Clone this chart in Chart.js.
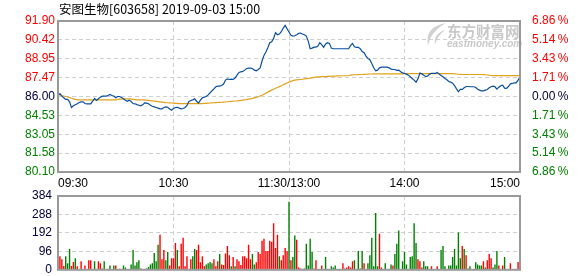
<!DOCTYPE html>
<html>
<head>
<meta charset="utf-8">
<script src="https://cdn.jsdelivr.net/npm/chart.js@4/dist/chart.umd.min.js"></script>
<style>
  html, body { margin: 0; padding: 0; background: #fff; overflow: hidden; }
  #wrap { position: relative; width: 578px; height: 276px; overflow: hidden; }
  canvas { position: absolute; left: 0; top: 0; }
</style>
</head>
<body>
<div id="wrap">
  <canvas id="priceChart" width="578" height="276"></canvas>
  <canvas id="volChart" width="578" height="283"></canvas>
</div>
<script>
const titleText = '安图生物[603658] 2019-09-03 15:00';
const prevClose = 86.00;
const timeLabels = ['09:30', '10:30', '11:30/13:00', '14:00', '15:00'];
const timeTickPos = [0, 60, 120, 180, 240];
const priceTicks = [91.90, 90.42, 88.95, 87.47, 86.00, 84.53, 83.05, 81.58, 80.10];
const pctTicks = [6.86, 5.14, 3.43, 1.71, 0, -1.71, -3.43, -5.14, -6.86];
const volTicks = [384, 288, 192, 96, 0];

// one value per minute, 09:30-11:30 then 13:00-15:00
const price = [
  86.08, 86.23, 86.03, 85.90, 85.77, 85.77, 85.58, 85.14, 85.27, 85.35,
  85.43, 85.53, 85.58, 85.58, 85.45, 85.43, 85.43, 85.43, 85.63, 85.84,
  85.69, 85.82, 85.95, 86.03, 86.03, 86.03, 86.08, 86.16, 86.08, 86.03,
  85.90, 86.00, 86.00, 85.92, 85.82, 85.71, 85.63, 85.71, 85.61, 85.45,
  85.43, 85.37, 85.32, 85.27, 85.35, 85.50, 85.48, 85.43, 85.32, 85.24,
  85.19, 85.14, 85.09, 85.03, 85.03, 85.14, 85.19, 85.16, 85.03, 84.93,
  85.06, 85.14, 85.16, 85.09, 85.03, 85.06, 85.14, 85.30, 85.61, 85.69,
  85.74, 85.82, 85.63, 85.48, 85.71, 85.90, 85.95, 86.00, 86.13, 86.29,
  86.45, 86.60, 86.76, 86.81, 86.81, 86.86, 86.97, 87.28, 87.38, 87.33,
  87.36, 87.33, 87.44, 87.67, 87.88, 87.93, 87.96, 88.06, 88.19, 88.22,
  88.22, 88.19, 88.06, 88.01, 88.11, 88.24, 88.77, 89.21, 89.47, 89.81,
  90.20, 90.28, 90.54, 90.99, 90.83, 90.88, 91.06, 91.35, 91.56, 91.30,
  91.04, 90.78, 90.72, 90.75, 90.83, 90.93, 90.96, 90.88, 90.83, 90.72,
  90.33, 89.73, 89.78, 89.86, 89.86, 89.94, 90.20, 90.05, 89.84, 90.10,
  90.20, 90.15, 89.78, 89.73, 89.73, 89.73, 89.73, 89.73, 89.73, 89.73,
  89.73, 89.73, 89.99, 90.15, 89.89, 89.84, 89.84, 89.73, 89.52, 89.42,
  89.16, 88.98, 88.87, 88.58, 88.24, 88.01, 88.06, 88.24, 88.30, 88.30,
  88.30, 88.30, 88.24, 88.14, 88.11, 88.11, 88.04, 88.06, 87.93, 87.85,
  87.80, 87.75, 87.67, 87.54, 87.41, 87.28, 87.12, 87.38, 87.83, 87.77,
  87.67, 87.57, 87.59, 87.75, 87.80, 87.80, 87.80, 87.88, 87.75, 87.64,
  87.54, 87.41, 87.31, 87.17, 87.12, 87.04, 86.86, 86.60, 86.37, 86.55,
  86.55, 86.68, 86.78, 86.78, 86.76, 86.76, 86.76, 86.70, 86.57, 86.50,
  86.44, 86.44, 86.50, 86.55, 86.68, 86.76, 86.81, 86.76, 86.57, 86.73,
  86.84, 86.89, 86.65, 86.63, 86.78, 86.99, 87.02, 87.07, 87.07, 87.28,
  87.54
];

const avgPrice = [
  86.18, 86.13, 86.08, 86.04, 86.00, 85.96, 85.92, 85.86, 85.82, 85.78,
  85.76, 85.74, 85.74, 85.74, 85.74, 85.74, 85.74, 85.74, 85.74, 85.74,
  85.74, 85.74, 85.74, 85.74, 85.74, 85.74, 85.74, 85.74, 85.74, 85.74,
  85.74, 85.77, 85.79, 85.80, 85.81, 85.81, 85.81, 85.81, 85.80, 85.78,
  85.76, 85.74, 85.74, 85.74, 85.74, 85.74, 85.72, 85.70, 85.68, 85.66,
  85.64, 85.62, 85.60, 85.58, 85.56, 85.54, 85.52, 85.51, 85.50, 85.49,
  85.48, 85.47, 85.46, 85.44, 85.44, 85.44, 85.44, 85.44, 85.44, 85.44,
  85.44, 85.44, 85.44, 85.44, 85.45, 85.45, 85.46, 85.47, 85.48, 85.49,
  85.50, 85.51, 85.52, 85.53, 85.54, 85.55, 85.56, 85.57, 85.59, 85.61,
  85.62, 85.63, 85.65, 85.66, 85.68, 85.70, 85.72, 85.74, 85.76, 85.79,
  85.82, 85.85, 85.89, 85.93, 85.98, 86.04, 86.10, 86.18, 86.26, 86.34,
  86.42, 86.50, 86.57, 86.64, 86.70, 86.77, 86.84, 86.92, 86.99, 87.06,
  87.12, 87.18, 87.24, 87.28, 87.30, 87.32, 87.33, 87.35, 87.37, 87.39,
  87.41, 87.43, 87.46, 87.49, 87.51, 87.53, 87.54, 87.55, 87.55, 87.56,
  87.57, 87.58, 87.59, 87.60, 87.60, 87.61, 87.61, 87.62, 87.62, 87.62,
  87.62, 87.64, 87.67, 87.69, 87.70, 87.70, 87.71, 87.72, 87.72, 87.73,
  87.74, 87.75, 87.76, 87.76, 87.77, 87.77, 87.77, 87.77, 87.77, 87.77,
  87.77, 87.77, 87.77, 87.77, 87.77, 87.77, 87.77, 87.77, 87.77, 87.77,
  87.78, 87.78, 87.79, 87.79, 87.79, 87.79, 87.79, 87.79, 87.79, 87.79,
  87.79, 87.79, 87.79, 87.79, 87.79, 87.79, 87.79, 87.79, 87.79, 87.79,
  87.79, 87.79, 87.79, 87.79, 87.79, 87.78, 87.77, 87.76, 87.74, 87.73,
  87.72, 87.72, 87.72, 87.72, 87.72, 87.72, 87.72, 87.72, 87.72, 87.72,
  87.72, 87.71, 87.70, 87.68, 87.66, 87.64, 87.63, 87.63, 87.63, 87.63,
  87.63, 87.63, 87.63, 87.63, 87.63, 87.63, 87.63, 87.63, 87.63, 87.63,
  87.63
];

const volume = [
  98, 71, 55, 20, 71, 34, 108, 20, 41, 60,
  18, 3, 44, 3, 23, 3, 50, 50, 3, 44,
  3, 44, 34, 7, 44, 3, 3, 23, 3, 23,
  23, 3, 5, 3, 23, 12, 3, 3, 28, 103,
  23, 39, 50, 7, 3, 3, 7, 14, 28, 34,
  87, 44, 130, 183, 55, 103, 50, 92, 23, 60,
  60, 140, 103, 18, 135, 167, 18, 71, 3, 55,
  71, 108, 103, 130, 39, 71, 18, 28, 34, 40,
  34, 55, 18, 44, 82, 28, 25, 85, 124, 76,
  18, 66, 18, 55, 44, 25, 71, 71, 60, 130,
  55, 82, 28, 39, 92, 82, 151, 162, 98, 98,
  151, 146, 242, 114, 183, 71, 50, 76, 114, 98,
  354, 50, 66, 178, 156, 12, 7, 2, 7, 135,
  23, 162, 92, 7, 50, 2, 2, 23, 2, 66,
  2, 2, 18, 12, 23, 2, 2, 2, 34, 7,
  12, 18, 12, 44, 50, 2, 98, 7, 98, 34,
  3, 34, 76, 167, 18, 295, 18, 188, 12, 3,
  34, 3, 3, 28, 23, 82, 135, 204, 3, 44,
  92, 28, 3, 66, 71, 242, 140, 55, 44, 12,
  44, 18, 18, 3, 18, 3, 3, 18, 3, 103,
  124, 18, 3, 23, 23, 66, 108, 23, 194, 60,
  124, 108, 76, 7, 18, 3, 3, 39, 28, 23,
  23, 44, 12, 50, 82, 60, 12, 28, 98, 23,
  3, 23, 66, 3, 3, 34, 3, 3, 3, 40,
  60
];

// 1 = price up that minute (red), 0 = down (green)
const volUp = [
  0, 1, 1, 1, 0, 0, 0, 1, 1, 0,
  1, 1, 1, 0, 1, 0, 1, 1, 0, 0,
  1, 1, 1, 1, 0, 0, 1, 0, 1, 0,
  1, 1, 1, 0, 0, 0, 1, 0, 0, 0,
  0, 0, 0, 1, 1, 1, 0, 0, 0, 0,
  0, 0, 0, 1, 1, 1, 0, 0, 1, 1,
  1, 1, 0, 1, 1, 1, 1, 1, 1, 1,
  0, 0, 1, 1, 1, 1, 1, 0, 0, 0,
  0, 1, 1, 1, 0, 1, 1, 1, 1, 1,
  0, 1, 0, 1, 1, 1, 1, 1, 1, 1,
  1, 0, 0, 1, 1, 1, 1, 1, 1, 1,
  1, 1, 1, 1, 1, 0, 1, 1, 1, 1,
  0, 1, 0, 0, 1, 1, 1, 0, 0, 0,
  0, 0, 0, 1, 1, 0, 1, 1, 1, 0,
  1, 1, 0, 0, 0, 0, 0, 0, 1, 1,
  1, 1, 1, 1, 0, 1, 0, 1, 0, 1,
  0, 0, 0, 0, 0, 0, 0, 1, 1, 0,
  0, 1, 0, 0, 1, 0, 0, 0, 1, 0,
  0, 0, 0, 0, 0, 0, 0, 1, 1, 1,
  0, 0, 0, 1, 1, 1, 1, 1, 1, 0,
  0, 0, 0, 0, 0, 0, 0, 0, 0, 0,
  1, 0, 1, 0, 0, 1, 1, 0, 0, 0,
  0, 1, 0, 1, 1, 1, 0, 0, 0, 1,
  0, 1, 0, 1, 0, 1, 0, 0, 1, 1,
  1
];

const RED = '#ff0000';
const GREEN = '#008000';
const DARK = '#00003a';
const tickFont = { family: 'Liberation Sans', size: 12 };
const gridColor = '#cfcfcf';

function sideColor(diff) {
  if (diff > 0.001) return RED;
  if (diff < -0.001) return GREEN;
  return DARK;
}

const frame = {
  id: 'frame',
  afterDraw(chart) {
    const { ctx, chartArea: a } = chart;
    ctx.save();
    ctx.strokeStyle = '#999';
    ctx.lineWidth = 2;
    ctx.strokeRect(a.left, a.top, a.right - a.left, a.bottom - a.top);
    ctx.restore();
  }
};

const decor = {
  id: 'decor',
  beforeDatasetsDraw(chart) {
    const ctx = chart.ctx;
    ctx.save();
    ctx.fillStyle = '#d0d0d0';
    ctx.beginPath();
    ctx.moveTo(446, 23);
    ctx.quadraticCurveTo(424, 27, 428, 46);
    ctx.quadraticCurveTo(430, 32, 446, 23);
    ctx.fill();
    ctx.beginPath();
    ctx.moveTo(445, 30);
    ctx.quadraticCurveTo(433, 34, 435, 45);
    ctx.quadraticCurveTo(437, 36, 445, 30);
    ctx.fill();
    ctx.fillStyle = '#c8c8c8';
    ctx.font = 'bold 14.5px "Noto Sans CJK SC"';
    ctx.textBaseline = 'alphabetic';
    ctx.fillText('东方财富网', 447, 37);
    ctx.font = 'italic bold 10px "Liberation Sans"';
    ctx.fillText('eastmoney.com', 447, 47);
    ctx.restore();
  },
  afterDraw(chart) {
    const ctx = chart.ctx;
    ctx.save();
    ctx.fillStyle = '#000';
    ctx.font = '12.5px "Noto Sans CJK SC"';
    ctx.textBaseline = 'middle';
    ctx.fillText(titleText, 59, 9);
    ctx.restore();
  }
};

const xScale = (showLabels) => ({
  type: 'linear',
  min: 0,
  max: 240,
  offset: false,
  afterBuildTicks: s => { s.ticks = timeTickPos.map(v => ({ value: v })); },
  afterFit: s => { s.height = showLabels ? 20 : 0; },
  grid: { color: gridColor, drawTicks: false, offset: false },
  border: { display: false, dash: [4, 3] },
  ticks: {
    display: showLabels,
    autoSkip: false,
    maxRotation: 0,
    align: 'inner',
    padding: 4,
    color: '#000',
    font: tickFont,
    callback: (v, i) => timeLabels[i]
  }
});

new Chart(document.getElementById('priceChart'), {
  type: 'line',
  data: {
    datasets: [
      {
        data: price.map((v, i) => ({ x: i, y: v })),
        borderColor: '#0a4f9f',
        borderWidth: 1.2,
        pointRadius: 0,
        tension: 0
      },
      {
        data: avgPrice.map((v, i) => ({ x: i, y: v })),
        borderColor: '#e0a21a',
        borderWidth: 1.2,
        pointRadius: 0,
        tension: 0
      }
    ]
  },
  options: {
    responsive: false,
    animation: false,
    events: [],
    layout: { padding: { top: 21, bottom: 84, left: 0, right: 0 } },
    plugins: { legend: { display: false }, tooltip: { enabled: false } },
    scales: {
      x: xScale(true),
      y: {
        position: 'left',
        min: 80.10,
        max: 91.90,
        afterBuildTicks: s => { s.ticks = priceTicks.map(v => ({ value: v })); },
        afterFit: s => { s.width = 58; },
        grid: { color: gridColor, drawTicks: false },
        border: { display: false, dash: [4, 3] },
        ticks: {
          padding: 3,
          font: tickFont,
          color: c => sideColor(c.tick.value - prevClose),
          callback: v => v.toFixed(2)
        }
      },
      y2: {
        position: 'right',
        min: -6.86,
        max: 6.86,
        afterBuildTicks: s => { s.ticks = pctTicks.map(v => ({ value: v })); },
        afterFit: s => { s.width = 58; },
        grid: { display: false },
        border: { display: false },
        ticks: {
          padding: 4,
          font: tickFont,
          color: c => sideColor(c.tick.value),
          callback: v => Math.abs(v).toFixed(2) + '\u2009%'
        }
      }
    }
  },
  plugins: [decor, frame]
});

new Chart(document.getElementById('volChart'), {
  type: 'bar',
  data: {
    datasets: [{
      data: volume.map((v, i) => ({ x: i, y: v })),
      backgroundColor: volUp.map(u => (u ? RED : GREEN)),
      borderWidth: 0,
      barThickness: 1.4,
      inflateAmount: 0
    }]
  },
  options: {
    responsive: false,
    animation: false,
    events: [],
    layout: { padding: { top: 196, bottom: 3, left: 0, right: 58 } },
    plugins: { legend: { display: false }, tooltip: { enabled: false } },
    scales: {
      x: xScale(false),
      y: {
        position: 'left',
        min: 0,
        max: 384,
        afterBuildTicks: s => { s.ticks = volTicks.map(v => ({ value: v })); },
        afterFit: s => { s.width = 58; },
        grid: { color: gridColor, drawTicks: false },
        border: { display: false, dash: [4, 3] },
        ticks: { padding: 6, font: tickFont, color: DARK }
      }
    }
  },
  plugins: [frame]
});
</script>
</body>
</html>
